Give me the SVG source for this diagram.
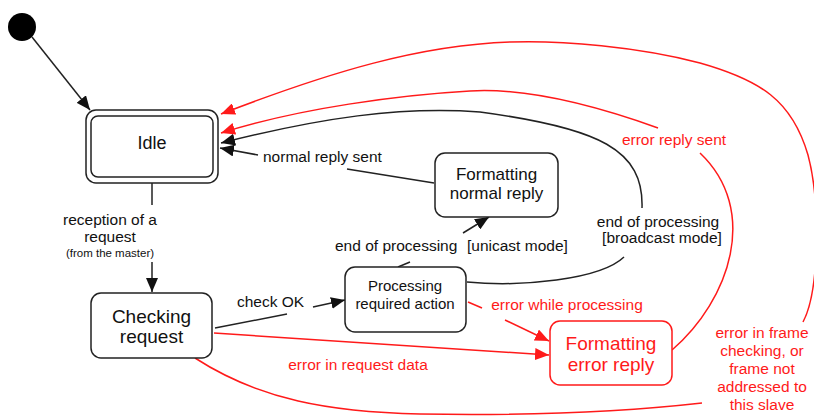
<svg xmlns="http://www.w3.org/2000/svg" width="814" height="416" viewBox="0 0 814 416">
<defs>
<marker id="ab" markerUnits="userSpaceOnUse" markerWidth="14" markerHeight="12" refX="14" refY="6" orient="auto"><path d="M0,0 L14,6 L0,12 z" fill="#111"/></marker>
<marker id="ar" markerUnits="userSpaceOnUse" markerWidth="14" markerHeight="12" refX="14" refY="6" orient="auto"><path d="M0,0 L14,6 L0,12 z" fill="#ff1a1a"/></marker>
<style>
.box{fill:#fff;stroke:#222;stroke-width:1.5}
.rbox{fill:#fff;stroke:#ff1a1a;stroke-width:1.5}
.c{fill:none;stroke:#222;stroke-width:1.5}
.r{fill:none;stroke:#ff1a1a;stroke-width:1.5}
text{font-family:"Liberation Sans",Arial,sans-serif;fill:#111}
.n{text-anchor:middle}
.lb{font-size:15.5px}
.red{fill:#ff1a1a}
</style>
</defs>
<g id="connectors">
<path class="c" d="M32,37 L90,110" marker-end="url(#ab)"/>
<path class="c" d="M152,183 L152,205"/>
<path class="c" d="M152,262 L152,292" marker-end="url(#ab)"/>
<path class="c" d="M215,328 L287,314"/>
<path class="c" d="M313,307 L345,300" marker-end="url(#ab)"/>
<path class="c" d="M398,267 L410,262"/>
<path class="c" d="M463,233 L489,217" marker-end="url(#ab)"/>
<path class="c" d="M434,183 L347,169"/>
<path class="c" d="M258,155 L220,148" marker-end="url(#ab)"/>
<path class="c" d="M467,282 C520,287 600,280 624,257"/>
<path class="c" d="M642,208 C644,150 600,128 480,112 C400,106 320,118 221,143" marker-end="url(#ab)"/>
<path class="r" d="M672,350 C730,300 760,210 700,153"/>
<path class="r" d="M658,128 C580,100 520,88 470,91 C400,95 300,108 221,133" marker-end="url(#ar)"/>
<path class="r" d="M195,358 C260,400 330,412 420,414 C540,416 640,410 702,403"/>
<path class="r" d="M803,322 C820,290 820,200 808,155 C792,100 760,80 700,63 C640,47 560,40 510,42 C420,45 330,72 221,114" marker-end="url(#ar)"/>
<path class="r" d="M468,302 L482,308"/>
<path class="r" d="M505,320 L549,341" marker-end="url(#ar)"/>
<path class="r" d="M214,333 L549,355" marker-end="url(#ar)"/>
</g>
<g id="labels" class="lb">
<text class="n" x="110" y="225">reception of a</text>
<text class="n" x="110" y="242">request</text>
<text class="n" x="110" y="257" style="font-size:11.5px">(from the master)</text>
<text x="237" y="307">check OK</text>
<text x="263" y="162">normal reply sent</text>
<text x="335" y="251">end of processing</text>
<text x="467" y="251">[unicast mode]</text>
<text class="n" x="658" y="227">end of processing</text>
<text class="n" x="662" y="243">[broadcast mode]</text>
<text class="n red" x="674" y="145">error reply sent</text>
<text class="n red" x="567" y="310">error while processing</text>
<text class="n red" x="358" y="370">error in request data</text>
<text class="n red" x="762" y="338">error in frame</text>
<text class="n red" x="762" y="356">checking, or</text>
<text class="n red" x="762" y="374">frame not</text>
<text class="n red" x="762" y="392">addressed to</text>
<text class="n red" x="762" y="410">this slave</text>
</g>
<g id="initial"><circle cx="22" cy="27" r="14" fill="#000"/></g>
<g id="idle">
<rect class="box" x="86" y="110" width="132" height="73" rx="10"/>
<rect class="box" x="91" y="116" width="122" height="61" rx="7"/>
<text class="n" x="152" y="149" style="font-size:18px">Idle</text>
</g>
<g id="checking">
<rect class="box" x="91" y="293" width="121" height="65" rx="10"/>
<text class="n" x="151.5" y="323" style="font-size:19px">Checking</text>
<text class="n" x="151.5" y="343" style="font-size:19px">request</text>
</g>
<g id="processing">
<rect class="box" x="345" y="267" width="121" height="65" rx="10"/>
<text class="n" x="405" y="291" style="font-size:15px">Processing</text>
<text class="n" x="405" y="309" style="font-size:15px">required action</text>
</g>
<g id="normal">
<rect class="box" x="435" y="153" width="123" height="64" rx="10"/>
<text class="n" x="496.5" y="180" style="font-size:17px">Formatting</text>
<text class="n" x="496.5" y="199" style="font-size:17px">normal reply</text>
</g>
<g id="error">
<rect class="rbox" x="550" y="321" width="122" height="64" rx="10"/>
<text class="n red" x="611" y="350" style="font-size:19px">Formatting</text>
<text class="n red" x="611" y="371" style="font-size:19px">error reply</text>
</g>
</svg>
